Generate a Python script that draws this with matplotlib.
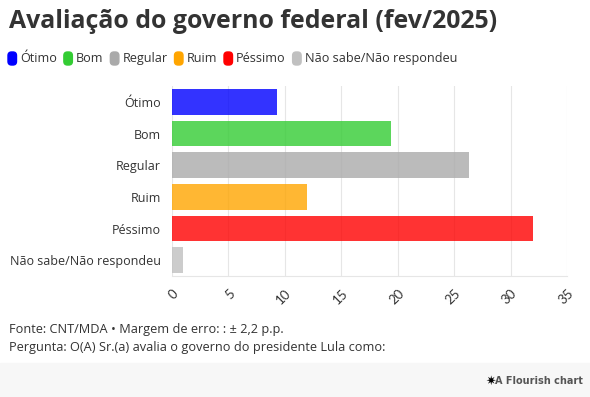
import matplotlib.pyplot as plt
from matplotlib.patches import FancyBboxPatch, Rectangle

categories = ["Ótimo", "Bom", "Regular", "Ruim", "Péssimo", "Não sabe/Não respondeu"]
values = [9.3, 19.4, 26.3, 12.0, 32.0, 1.0]
colors = ["#0000ff", "#33cc33", "#aaaaaa", "#ffa500", "#ff0000", "#c0c0c0"]
x_ticks = [0, 5, 10, 15, 20, 25, 30, 35]

title = "Avaliação do governo federal (fev/2025)"
source = "Fonte: CNT/MDA • Margem de erro: : ± 2,2 p.p."
question = "Pergunta: O(A) Sr.(a) avalia o governo do presidente Lula como:"

plt.rcParams["font.family"] = ["Open Sans", "DejaVu Sans"]

W, H = 590, 397
fig = plt.figure(figsize=(W / 100, H / 100), dpi=100)

# plot area in pixels: x 172..567, y 86..276
ax = fig.add_axes([172 / W, 1 - 276 / H, (567 - 172) / W, (276 - 86) / H])
ypos = list(range(len(categories)))
ax.barh(ypos, values, height=0.81, color=colors, alpha=0.8, zorder=3)
ax.set_ylim(len(categories) - 0.5, -0.5)
ax.set_xlim(0, 35)
ax.set_yticks(ypos)
ax.set_yticklabels(categories, fontsize=9, color="#333333")
ax.set_xticks(x_ticks)
ax.set_xticklabels([str(t) for t in x_ticks], rotation=45, ha="right",
                   rotation_mode="anchor", fontsize=9.5, color="#333333",
                   family=["Lato", "DejaVu Sans"])
ax.tick_params(axis="y", length=0, pad=8)
ax.tick_params(axis="x", length=0, pad=8)
ax.grid(axis="x", color="#e6e6e6", linewidth=0.8, zorder=0)
for s in ["top", "right", "left"]:
    ax.spines[s].set_visible(False)
ax.spines["bottom"].set_color("#e6e6e6")

# title
fig.text(9 / W, 1 - 22 / H, title, fontsize=17.9, fontweight="bold",
         color="#333333", va="center", ha="left")

# legend
lx = 8
for cat, col in zip(categories, colors):
    box = FancyBboxPatch((lx / W, 1 - 65 / H), 8.5 / W, 13 / H,
                         boxstyle="round,pad=0,rounding_size=0.006",
                         transform=fig.transFigure, color=col,
                         mutation_aspect=W / H)
    fig.patches.append(box)
    t = fig.text((lx + 12) / W, 1 - 58.5 / H, cat, fontsize=9.1,
                 color="#333333", va="center", ha="left")
    fig.canvas.draw()
    bb = t.get_window_extent()
    lx = bb.x1 + 7

# footer band
fig.patches.append(Rectangle((0, 0), 1, 34 / H, transform=fig.transFigure,
                             color="#f7f7f7", zorder=0))
fig.text(9 / W, 1 - 330 / H, source, fontsize=9.2, color="#333333",
         va="center", ha="left")
fig.text(9 / W, 1 - 348 / H, question, fontsize=9.2, color="#333333",
         va="center", ha="left")
fig.text(583 / W, 1 - 381 / H, "A Flourish chart", fontsize=7,
         fontweight="bold", color="#555555", va="center", ha="right",
         family=["DejaVu Sans"])
fig.text(496 / W, 1 - 381 / H, "✷", fontsize=9, color="black",
         va="center", ha="right", family=["DejaVu Sans"])

fig.savefig("out.png", dpi=100, facecolor="white")
